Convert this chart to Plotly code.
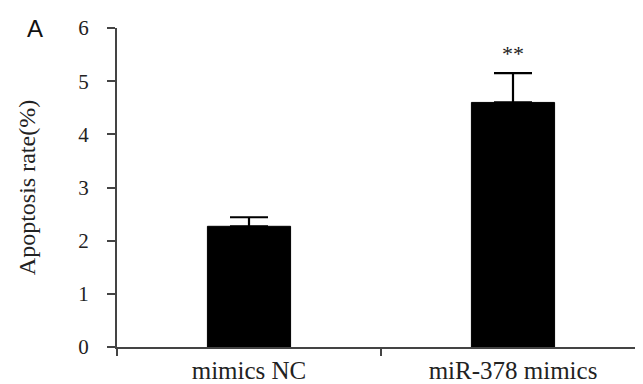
import plotly.graph_objects as go

categories = ["mimics NC", "miR-378 mimics"]
values = [2.27, 4.6]
errors = [0.17, 0.55]
significance = ["", "**"]
y_ticks = [0, 1, 2, 3, 4, 5, 6]

axis_color = "#444444"
serif = "Liberation Serif, Times New Roman, serif"

fig = go.Figure()
fig.add_trace(go.Bar(
    x=categories,
    y=values,
    marker=dict(color="black", line=dict(width=1, color="black")),
    error_y=dict(type="data", array=errors, arrayminus=[0, 0], symmetric=False,
                 color="#000000", thickness=2.2, width=19),
    width=0.315,
    showlegend=False,
))

for c, v, e, s in zip(categories, values, errors, significance):
    if s:
        fig.add_annotation(x=c, y=v + e, text=s, showarrow=False,
                           yanchor="bottom", yshift=5,
                           font=dict(family=serif, size=22, color="#222222"))

fig.add_annotation(xref="paper", yref="paper", x=-0.155, y=1.0, text="A",
                   showarrow=False, xanchor="center", yanchor="middle",
                   font=dict(family="Liberation Sans, Arial, sans-serif", size=24, color="#111111"))

fig.update_layout(
    width=643, height=384,
    margin=dict(l=109, r=6, t=20, b=45),
    paper_bgcolor="white", plot_bgcolor="white",
    xaxis=dict(
        type="category", range=[-0.5, 1.5],
        showline=True, linecolor=axis_color, linewidth=2,
        ticks="outside", tickson="boundaries", ticklen=7, tickwidth=2, tickcolor=axis_color,
        showgrid=False, zeroline=False,
        tickfont=dict(family=serif, size=25, color="#222222"),
    ),
    yaxis=dict(
        range=[0, 6], tickvals=y_ticks,
        showline=True, linecolor=axis_color, linewidth=2,
        ticks="outside", ticklen=8, tickwidth=2, tickcolor=axis_color,
        showgrid=False, zeroline=False,
        tickfont=dict(family=serif, size=21, color="#222222"),
        ticklabelstandoff=14,
        title=dict(text="Apoptosis rate(%)", standoff=36,
                   font=dict(family=serif, size=24, color="#222222")),
    ),
)

fig.write_html("out.html")
